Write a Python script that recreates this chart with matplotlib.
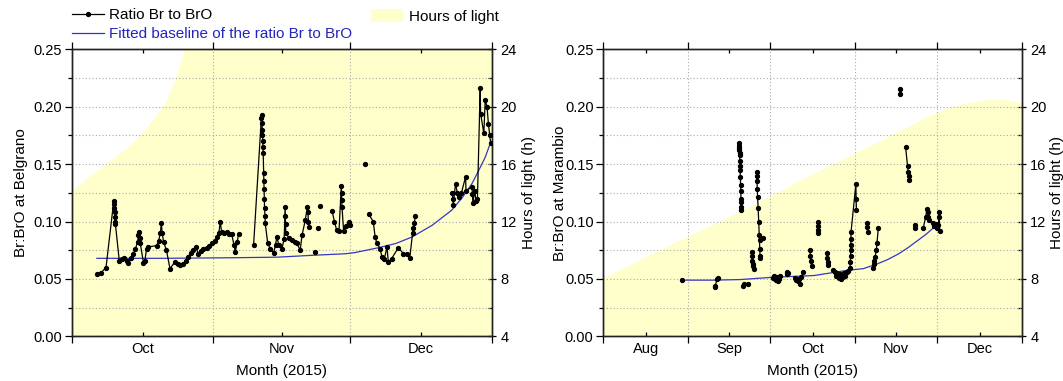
import numpy as np
import matplotlib
matplotlib.use('Agg')
import matplotlib.pyplot as plt
from matplotlib.lines import Line2D
from matplotlib.patches import Patch
from matplotlib.ticker import FixedLocator, FixedFormatter, NullFormatter, MultipleLocator

plt.rcParams['font.family'] = ['Liberation Sans', 'DejaVu Sans']
nan = np.nan

# ---------------- axis definitions (day of year 2015) ----------------
bel_month_starts = [274, 305, 335, 366]
bel_month_labels = ['Oct', 'Nov', 'Dec']
mar_month_starts = [213, 244, 274, 305, 335, 366]
mar_month_labels = ['Aug', 'Sep', 'Oct', 'Nov', 'Dec']

# ---------------- Belgrano (days after 1 Oct) ----------------
bel_day = [5.5, 6.3, 7.5, 9.2, 9.3, 9.35, 9.4, 9.45, 9.5, 9.55, 10.4, 10.9, 11.5, 12.0, 12.4,
           13.0, 13.5, 13.9, 14.4, 14.6, 14.7, 14.85, 15.0, 15.7, 16.0, 16.4, 16.7, 18.6, 19.0,
           19.4, 19.6, 19.8, 20.1, 20.7, 21.5, 22.6, 23.2, 23.7, 24.4, 25.0, 25.5, 26.0, 26.6,
           27.2, 27.7, 28.3, 28.8, 29.5, 30.0, 30.7, 31.3, 31.8, 32.2, 32.5, 32.8, 33.4, 34.0,
           34.5, 35.0, 35.5, 35.8, 36.2, 36.5, nan,
           39.8, 41.5, 41.6, 41.65, 41.7, 41.75, 41.8, 41.85, 41.9, 42.0, 42.05, 42.1, 42.15,
           42.2, 42.3, 42.35, 42.9, 43.5, 44.2, 44.6, 44.9, 45.3, 46.0, 46.5, 46.7, 46.75, 46.8,
           46.85, 47.5, 48.2, 48.8, 49.3, 50.0, 50.4, 51.1, 51.6, 51.7, 51.8, 51.9, nan,
           53.3, nan, 54.0, nan, 54.4, nan,
           57.0, 57.5, 58.0, 58.5, 59.0, 59.05, 59.1, 59.15, 59.5, 60.0, 60.6, 61.0, nan,
           64.2, nan,
           65.0, 66.0, 66.4, 66.8, 67.5, 67.9, 68.4, 69.0, 69.3, 70.0, 71.5, 72.6, 73.4, 74.0,
           74.6, 74.8, 75.0, 75.2, nan,
           83.3, 83.4, 83.5, 84.0, 84.4, 84.7, 85.3, 86.2, 86.3, 87.6, 87.7, 87.8, 88.2, 88.5,
           88.8, 89.4, 89.5, 90.2, 90.5, 90.9, 91.2, 91.5, 91.7]
bel_ratio = [0.0547, 0.055, 0.060, 0.118, 0.115, 0.112, 0.108, 0.104, 0.100, 0.098, 0.066, 0.067,
             0.068, 0.066, 0.064, 0.068, 0.072, 0.076, 0.082, 0.088, 0.091, 0.086, 0.081, 0.064,
             0.066, 0.0765, 0.078, 0.079, 0.083, 0.090, 0.0988, 0.090, 0.082, 0.0756, 0.059, 0.065,
             0.063, 0.062, 0.063, 0.066, 0.069, 0.073, 0.075, 0.078, 0.072, 0.074, 0.076, 0.077,
             0.079, 0.081, 0.083, 0.0866, 0.090, 0.0997, 0.091, 0.090, 0.091, 0.089, 0.089, 0.080,
             0.0735, 0.082, 0.089, nan,
             0.0794, 0.190, 0.1927, 0.186, 0.180, 0.175, 0.170, 0.165, 0.160, 0.142, 0.135, 0.128,
             0.120, 0.112, 0.105, 0.0985, 0.081, 0.076, 0.0727, 0.080, 0.0866, 0.080, 0.0765, 0.085,
             0.113, 0.105, 0.098, 0.090, 0.086, 0.0837, 0.082, 0.081, 0.075, 0.088, 0.101, 0.113,
             0.108, 0.100, 0.095, nan,
             0.0735, nan, 0.0948, nan, 0.1134, nan,
             0.109, 0.100, 0.0924, 0.092, 0.131, 0.125, 0.119, 0.113, 0.092, 0.096, 0.0997, 0.097, nan,
             0.150, nan,
             0.1064, 0.100, 0.0866, 0.081, 0.0765, 0.069, 0.067, 0.0779, 0.0648, 0.0677, 0.0773,
             0.072, 0.072, 0.0686, 0.090, 0.094, 0.099, 0.1046, nan,
             0.125, 0.120, 0.114, 0.133, 0.125, 0.1215, 0.125, 0.139, 0.127, 0.130, 0.124, 0.116,
             0.127, 0.118, 0.120, 0.216, 0.194, 0.1767, 0.2058, 0.200, 0.185, 0.175, 0.168]
bel_base_day = [5.5, 20, 35, 45, 52, 60, 62, 67.2, 71, 74.5, 78.9, 83.2, 85.5, 87.6, 89.1, 90.5, 91.6]
bel_base_ratio = [0.068, 0.068, 0.0685, 0.069, 0.0705, 0.072, 0.073, 0.0773, 0.081, 0.0866, 0.0968,
                  0.110, 0.121, 0.133, 0.1447, 0.156, 0.168]
bel_light_day = [0, 6, 13, 17, 20.5, 22.6, 24.6, 92]
bel_light_hours = [14.2, 15.7, 17.4, 18.8, 20.3, 21.9, 24.0, 24.0]

# ---------------- Marambio (days after 1 Aug) ----------------
mar_day = [28.9, nan,
           40.7, 40.9, 41.5, 42.0, nan,
           49.6, 49.65, 49.7, 49.75, 49.8, 49.85, 49.9, 49.95, 50.0, 50.1, 50.2, 50.25, 50.3,
           50.35, 50.4, 50.5, nan,
           51.0, 51.3, nan, 53.0, nan,
           54.3, 54.4, 54.5, 54.6, 54.8, 55.0, nan,
           56.1, 56.15, 56.2, 56.3, 56.4, 56.6, 56.8, 57.0, 57.1, 57.2, 57.3, 57.4, nan,
           58.2, nan,
           62.0, 62.3, 62.6, 63.0, 63.4, 63.8, 64.2, 64.5, nan,
           67.0, 67.3, 67.6, nan,
           70.0, 70.5, 71.0, 71.5, 71.9, 72.4, 73.0, nan,
           75.5, 75.7, 75.9, 76.1, nan,
           78.3, 78.4, 78.5, 78.6, nan,
           81.7, 81.9, 82.1, 82.2, nan,
           84.0, 84.5, 85.0, 85.5, 86.0, 86.5, 87.0, 87.5, 88.0, 88.5, 89.0, 89.5, 90.2, 90.3,
           90.35, 90.4, 90.45, 90.5, 90.55, 92.3, 92.4, 92.5, nan,
           96.4, 96.5, 96.6, nan,
           98.7, 98.9, 99.1, 99.3, 99.8, 100.0, 100.5, nan,
           108.5, 108.5, nan,
           110.5, 111.2, 111.5, 111.6, 111.7, nan,
           113.8, 113.9, nan,
           116.9, 117.8, 118.3, 118.5, 118.7, 118.9, nan,
           120.5, 121.0, 121.5, 122.0, 122.5, 122.7, 122.8, 122.9]
mar_ratio = [0.0488, nan,
             0.044, 0.043, 0.050, 0.0512, nan,
             0.168, 0.166, 0.164, 0.162, 0.160, 0.158, 0.153, 0.148, 0.145, 0.139, 0.132, 0.127,
             0.120, 0.117, 0.113, 0.110, nan,
             0.044, 0.046, nan, 0.046, nan,
             0.0735, 0.070, 0.066, 0.063, 0.061, 0.059, nan,
             0.143, 0.140, 0.135, 0.128, 0.121, 0.112, 0.100, 0.088, 0.084, 0.076, 0.070, 0.068, nan,
             0.086, nan,
             0.051, 0.053, 0.050, 0.049, 0.052, 0.048, 0.050, 0.053, nan,
             0.054, 0.056, 0.055, nan,
             0.051, 0.049, 0.048, 0.050, 0.046, 0.052, 0.056, nan,
             0.075, 0.070, 0.066, 0.061, nan,
             0.0997, 0.096, 0.093, 0.090, nan,
             0.0723, 0.068, 0.065, 0.062, nan,
             0.0575, 0.056, 0.053, 0.055, 0.051, 0.054, 0.050, 0.052, 0.055, 0.053, 0.056, 0.057,
             0.060, 0.065, 0.070, 0.075, 0.080, 0.085, 0.091, 0.1325, 0.120, 0.110, nan,
             0.099, 0.095, 0.091, nan,
             0.060, 0.063, 0.066, 0.069, 0.075, 0.081, 0.094, nan,
             0.215, 0.211, nan,
             0.1645, 0.148, 0.143, 0.140, 0.136, nan,
             0.097, 0.094, nan,
             0.094, 0.104, 0.111, 0.108, 0.104, 0.101, nan,
             0.099, 0.096, 0.098, 0.094, 0.097, 0.108, 0.104, 0.092]
mar_base_day = [28.9, 40, 50, 62, 77, 89, 95, 100, 104, 108, 111.5, 115, 118, 121, 122.7]
mar_base_ratio = [0.049, 0.049, 0.0495, 0.0515, 0.053, 0.0575, 0.059, 0.063, 0.067, 0.072, 0.0775,
                  0.0837, 0.089, 0.0953, 0.099]
mar_light_day = [0, 30, 49, 60, 75, 90, 99.6, 110, 118, 125, 133, 141, 147, 153]
mar_light_hours = [8.1, 10.9, 12.65, 13.7, 15.2, 16.6, 17.5, 18.5, 19.3, 19.85, 20.3, 20.55, 20.5, 20.3]

# ---------------- styling ----------------
LIGHT = '#FFFFCC'
BLUE = '#3535c8'
GRID = '#a8a8a8'
TICK_FS = 10.5
LAB_FS = 11

fig = plt.figure(figsize=(10.63, 3.81), dpi=100)


def panel(rect, starts, labels, day, ratio, bday, bratio, lday, lhours, ylabel, lpad, rpad):
    ax = fig.add_axes(rect)
    axh = ax.twinx()
    ax.set_zorder(axh.get_zorder() + 1)
    ax.patch.set_visible(False)

    x0 = starts[0]
    axh.fill_between(x0 + np.asarray(lday), 4, lhours, color=LIGHT, lw=0)
    axh.set_ylim(4, 24)
    axh.yaxis.set_major_locator(MultipleLocator(4))
    axh.yaxis.set_minor_locator(MultipleLocator(2))
    axh.tick_params(axis='y', which='major', direction='inout', length=6, width=0.9,
                    labelsize=TICK_FS, pad=3)
    axh.tick_params(axis='y', which='minor', direction='in', length=3, width=0.9)
    axh.set_ylabel('Hours of light (h)', fontsize=LAB_FS, labelpad=rpad)

    ax.plot(x0 + np.asarray(bday), bratio, color=BLUE, lw=0.9, zorder=3)
    ax.plot(x0 + np.asarray(day), ratio, color='black', lw=0.9, marker='o', ms=2.8, zorder=4)

    ax.set_xlim(starts[0], starts[-1])
    ax.set_ylim(0, 0.25)
    mids = [(a + b) / 2 for a, b in zip(starts[:-1], starts[1:])]
    ax.xaxis.set_major_locator(FixedLocator(starts))
    ax.xaxis.set_major_formatter(NullFormatter())
    ax.xaxis.set_minor_locator(FixedLocator(mids))
    ax.xaxis.set_minor_formatter(FixedFormatter(labels))
    ax.yaxis.set_major_locator(MultipleLocator(0.05))
    ax.yaxis.set_minor_locator(MultipleLocator(0.025))
    ax.yaxis.set_major_formatter(matplotlib.ticker.FormatStrFormatter('%.2f'))

    ax.tick_params(axis='x', which='major', direction='out', length=5, width=0.9, top=True)
    ax.tick_params(axis='x', which='minor', direction='in', length=3, width=0.9,
                   labelsize=TICK_FS, pad=4, top=True)
    ax.tick_params(axis='y', which='major', direction='out', length=5, width=0.9,
                   labelsize=TICK_FS, pad=2)
    ax.tick_params(axis='y', which='minor', direction='out', length=3, width=0.9)

    ax.grid(True, axis='x', which='major', color=GRID, ls=(0, (1, 2)), lw=0.8)
    ax.grid(True, axis='y', which='both', color=GRID, ls=(0, (1, 2)), lw=0.8)

    ax.set_ylabel(ylabel, fontsize=LAB_FS, labelpad=lpad)
    ax.set_xlabel('Month (2015)', fontsize=LAB_FS, labelpad=6)
    for a in (ax, axh):
        for s in a.spines.values():
            s.set_linewidth(1.0)
            s.set_color('#222222')
    return ax


ax1 = panel([0.0675, 0.117, 0.3954, 0.7536], bel_month_starts, bel_month_labels,
            bel_day, bel_ratio, bel_base_day, bel_base_ratio, bel_light_day, bel_light_hours,
            'Br:BrO at Belgrano', 4, 3.8)
ax2 = panel([0.5675, 0.117, 0.3939, 0.7536], mar_month_starts, mar_month_labels,
            mar_day, mar_ratio, mar_base_day, mar_base_ratio, mar_light_day, mar_light_hours,
            'Br:BrO at Marambio', -1.5, 2.5)

h1 = Line2D([], [], color='black', lw=0.9, marker='o', ms=2.8)
h2 = Line2D([], [], color=BLUE, lw=0.9)
leg = fig.legend([h1, h2], ['Ratio Br to BrO', 'Fitted baseline of the ratio Br to BrO'],
                 loc='upper left', bbox_to_anchor=(0.0677, 0.978), frameon=False, fontsize=11,
                 handlelength=2.1, handletextpad=0.3, labelspacing=0.3, borderpad=0,
                 borderaxespad=0)
leg.get_texts()[1].set_color('#2424c0')
fig.legend([Patch(facecolor=LIGHT, edgecolor='none')], ['Hours of light'],
           loc='upper left', bbox_to_anchor=(0.349, 0.977), frameon=False, fontsize=11,
           handlelength=2.1, handleheight=1.0, handletextpad=0.4, borderpad=0, borderaxespad=0)

fig.savefig('out.png', dpi=100)
